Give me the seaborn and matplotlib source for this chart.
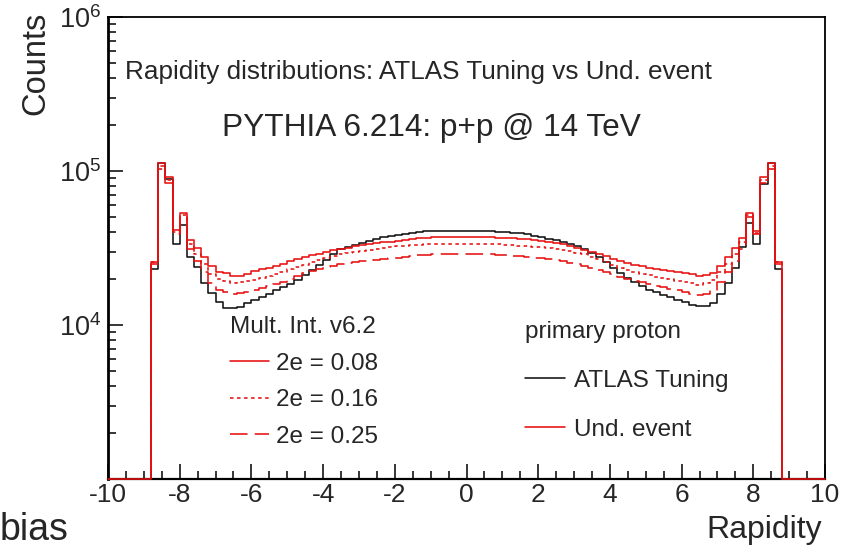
import numpy as np
import pandas as pd
import matplotlib
matplotlib.use("Agg")
import matplotlib.pyplot as plt
import seaborn as sns
from matplotlib.lines import Line2D
from matplotlib.ticker import MultipleLocator, FixedLocator, LogLocator, NullFormatter

# ---------------- data ----------------
# 88 rapidity bins of width 0.2 from -8.8 to 8.8
rapidity_edges = np.round(np.linspace(-8.8, 8.8, 89), 2)

counts_atlas = [
    23000, 113000, 89000, 33500, 44600, 27500, 23700, 18800, 16100, 14000,
    12900, 12800, 13000, 13800, 14500, 15300, 16000, 16800, 17600, 18500,
    19700, 21200, 22800, 24600, 26600, 28900, 31000, 32200, 33300, 34300,
    35300, 36200, 37100, 37800, 38500, 39100, 39600, 40100, 40500, 40600,
    40700, 40900, 40900, 40900, 40900, 40900, 40800, 40700, 40400, 40100,
    39700, 39300, 38700, 38000, 37200, 36400, 35500, 34600, 33700, 32500,
    31000, 29400, 27600, 25600, 23600, 21800, 20300, 19000, 17900, 17000,
    16300, 15700, 15100, 14600, 14000, 13500, 13200, 13200, 13800, 15900,
    18800, 23300, 32000, 45700, 33400, 82000, 113000, 23000]

counts_ue_008 = [
    25800, 112000, 91800, 41400, 53600, 35600, 31800, 27800, 24100, 22200,
    21600, 20700, 20800, 21300, 22400, 23000, 23600, 24300, 25000, 26000,
    26800, 27600, 28400, 29100, 29800, 30500, 31200, 31800, 32400, 32900,
    33400, 33900, 34400, 34800, 35300, 35700, 36100, 36500, 36800, 37000,
    37100, 37100, 37200, 37200, 37200, 37100, 37100, 37000, 36900, 36800,
    36600, 36400, 36100, 35700, 35200, 34700, 34100, 33400, 32600, 31700,
    30800, 29900, 29000, 28000, 27000, 26100, 25300, 24600, 24000, 23500,
    23100, 22700, 22400, 22100, 21700, 21300, 20700, 21100, 21600, 24100,
    27500, 31500, 36600, 53600, 40700, 91800, 113000, 25800]

counts_ue_016 = [
    25500, 108000, 87500, 40000, 52000, 33500, 29000, 25000, 21500, 19800,
    19200, 18800, 18900, 19300, 19700, 20200, 20800, 21400, 22100, 23000,
    23800, 24700, 25600, 26400, 27200, 28000, 28700, 29300, 29800, 30300,
    30800, 31200, 31600, 32000, 32400, 32700, 33000, 33200, 33400, 33500,
    33600, 33700, 33800, 33800, 33800, 33800, 33700, 33600, 33400, 33200,
    33000, 32800, 32500, 32200, 31900, 31500, 31100, 30700, 30200, 29500,
    28700, 27800, 26800, 25700, 24600, 23600, 22800, 22100, 21500, 21000,
    20600, 20200, 19800, 19400, 19000, 18600, 18300, 18600, 19500, 22000,
    25000, 29000, 34500, 52000, 39500, 87500, 108000, 25500]

counts_ue_025 = [
    25000, 103000, 83300, 39000, 50500, 31000, 26000, 22000, 18800, 17000,
    16300, 16000, 16100, 16500, 16900, 17300, 17800, 18400, 19100, 20000,
    20800, 21600, 22400, 23100, 23700, 24300, 24800, 25200, 25600, 25900,
    26200, 26500, 26800, 27100, 27400, 27700, 28000, 28300, 28600, 28800,
    28900, 29000, 29100, 29100, 29100, 29000, 28900, 28800, 28600, 28400,
    28200, 28000, 27700, 27400, 27100, 26700, 26300, 25900, 25400, 24800,
    24100, 23400, 22700, 22000, 21300, 20600, 20000, 19400, 18900, 18400,
    18000, 17600, 17200, 16800, 16400, 16000, 15700, 16000, 17000, 19000,
    22000, 26000, 31000, 50500, 39000, 83300, 103000, 25000]

mi_labels = ["2e = 0.08", "2e = 0.16", "2e = 0.25"]
proton_labels = ["ATLAS Tuning", "Und. event"]

for arr in (counts_atlas, counts_ue_008, counts_ue_016, counts_ue_025):
    assert len(arr) == 88

X_MIN, X_MAX = -10, 10
Y_MIN, Y_MAX = 1e3, 1e6

# ---------------- style ----------------
sns.set_theme(style="ticks")
plt.rcParams["font.family"] = ["Liberation Sans", "DejaVu Sans"]
plt.rcParams["mathtext.fontset"] = "custom"
plt.rcParams["mathtext.rm"] = "Liberation Sans"

W, H = 843, 549
fig = plt.figure(figsize=(W / 100, H / 100), dpi=100)
fig.patch.set_facecolor("white")
L, R, T, B = 108, 825, 17, 479
ax = fig.add_axes([L / W, 1 - B / H, (R - L) / W, (B - T) / H])
ax.set_facecolor("white")

RED = "#e81010"
BLACK = "#111111"
LW = 1.15
DOT = (0, (2.2, 2.2))
DASH = (0, (11, 4.5))


def draw_hist(vals, color, ls, z):
    edges = np.concatenate([[X_MIN], rapidity_edges, [X_MAX]])
    v = np.concatenate([[0.0], np.asarray(vals, float), [0.0]])
    y = np.maximum(v, Y_MIN)  # empty bins drawn on the axis floor
    y = np.append(y, y[-1])
    df = pd.DataFrame({"Rapidity": edges, "Counts": y})
    sns.lineplot(data=df, x="Rapidity", y="Counts", drawstyle="steps-post",
                 estimator=None, sort=False, color=color, linewidth=LW, ax=ax)
    ln = ax.lines[-1]
    ln.set_linestyle(ls)
    ln.set_clip_on(False)
    ln.set_zorder(z)


draw_hist(counts_atlas, BLACK, "-", 2.0)
draw_hist(counts_ue_025, RED, DASH, 2.1)
draw_hist(counts_ue_016, RED, DOT, 2.2)
draw_hist(counts_ue_008, RED, "-", 3.0)

ax.set_yscale("log")
ax.set_xlim(X_MIN, X_MAX)
ax.set_ylim(Y_MIN, Y_MAX)
ax.set_xlabel("")
ax.set_ylabel("")

ax.xaxis.set_major_locator(MultipleLocator(2))
ax.xaxis.set_minor_locator(MultipleLocator(0.5))
ax.yaxis.set_major_locator(FixedLocator([1e3, 1e4, 1e5, 1e6]))
ax.yaxis.set_minor_locator(LogLocator(base=10, subs=np.arange(2, 10)))
ax.yaxis.set_minor_formatter(NullFormatter())
ax.set_yticklabels(["", r"$\mathregular{10^{4}}$", r"$\mathregular{10^{5}}$",
                    r"$\mathregular{10^{6}}$"])
ax.set_xticklabels([str(int(t)) for t in ax.get_xticks()])

ax.tick_params(axis="both", which="both", direction="in", top=False, right=False,
               color="black", width=1.1)
ax.tick_params(axis="both", which="major", length=11)
ax.tick_params(axis="both", which="minor", length=6)
ax.tick_params(axis="x", which="major", labelsize=19, pad=3)
ax.tick_params(axis="y", which="major", labelsize=19.5, pad=5)

for side, sp in ax.spines.items():
    sp.set_visible(True)
    sp.set_color("black")
    sp.set_linewidth(1.3)
ax.spines["left"].set_linewidth(2.0)
ax.spines["bottom"].set_linewidth(1.6)


def ftext(x, y, s, **kw):
    fig.text(x / W, 1 - y / H, s, **kw)


ftext(36, 12, "Counts", rotation=90, ha="center", va="top", fontsize=23.5)
ftext(822, 530, "Rapidity", ha="right", va="center", fontsize=23)
ftext(0, 530, "bias", ha="left", va="center", fontsize=27)
ftext(125, 72, "Rapidity distributions: ATLAS Tuning vs Und. event",
      ha="left", va="center", fontsize=18.8)
ftext(222, 128, "PYTHIA 6.214: p+p @ 14 TeV", ha="left", va="center", fontsize=22.8)

# legends
h_mi = [Line2D([], [], color=RED, lw=LW, ls="-"),
        Line2D([], [], color=RED, lw=LW, ls=DOT),
        Line2D([], [], color=RED, lw=LW, ls=DASH)]
leg1 = ax.legend(h_mi, mi_labels, title="Mult. Int. v6.2", loc="upper left",
                 bbox_to_anchor=(230 / W, 1 - 316 / H), bbox_transform=fig.transFigure,
                 frameon=False, fontsize=17.5, title_fontsize=17.5, handlelength=1.6,
                 handletextpad=0.3, labelspacing=0.6, borderpad=0, borderaxespad=0,
                 alignment="left")
ax.add_artist(leg1)

h_pp = [Line2D([], [], color=BLACK, lw=LW), Line2D([], [], color=RED, lw=LW)]
leg2 = ax.legend(h_pp, proton_labels, title="primary proton", loc="upper left",
                 bbox_to_anchor=(525 / W, 1 - 321 / H), bbox_transform=fig.transFigure,
                 frameon=False, fontsize=17.5, title_fontsize=17.5, handlelength=1.65,
                 handletextpad=0.35, labelspacing=1.1, borderpad=0, borderaxespad=0,
                 alignment="left")

fig.savefig("out.png", dpi=100, facecolor="white")
